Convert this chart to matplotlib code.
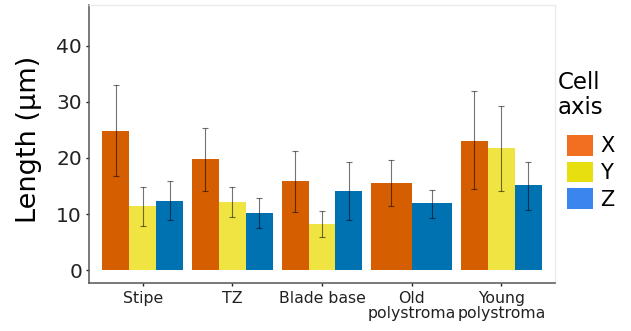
import numpy as np
import matplotlib.pyplot as plt
from matplotlib.patches import Patch

regions = ['Stipe', 'TZ', 'Blade base', 'Old\npolystroma', 'Young\npolystroma']
axes_names = ['X', 'Y', 'Z']

# mean lengths (um); Old polystroma has no Y measurement
mean_x = [24.9, 19.9, 15.9, 15.5, 23.1]
mean_y = [11.4, 12.1, 8.3, np.nan, 21.8]
mean_z = [12.4, 10.2, 14.1, 12.0, 15.1]

# error bar ends (lower, upper)
lo_x = [16.7, 14.2, 10.3, 11.5, 14.4]
hi_x = [33.1, 25.4, 21.3, 19.6, 32.0]
lo_y = [7.9, 9.4, 5.9, np.nan, 14.2]
hi_y = [14.8, 14.8, 10.5, np.nan, 29.2]
lo_z = [8.9, 7.6, 8.9, 9.3, 10.8]
hi_z = [15.9, 12.9, 19.3, 14.3, 19.2]

bar_colors = ['#D55E00', '#F0E442', '#0072B2']
key_colors = ['#F26F21', '#E8DF10', '#3A86EE']

means = np.array([mean_x, mean_y, mean_z])
lows = np.array([lo_x, lo_y, lo_z])
highs = np.array([hi_x, hi_y, hi_z])

fig = plt.figure(figsize=(6.31, 3.31), dpi=100)
ax = fig.add_axes([0.141, 0.145, 0.7386, 0.84])

group_w = 0.9
for i in range(len(regions)):
    present = [j for j in range(3) if not np.isnan(means[j, i])]
    w = group_w / len(present)
    for k, j in enumerate(present):
        x = i + 1 - group_w / 2 + w * (k + 0.5)
        m = means[j, i]
        ax.bar(x, m, width=w, color=bar_colors[j], edgecolor='none', zorder=2)
        ax.errorbar(x, m, yerr=[[m - lows[j, i]], [highs[j, i] - m]],
                    fmt='none', ecolor='black', alpha=0.55, elinewidth=0.8,
                    capsize=2.5, capthick=0.8, zorder=3)

ax.set_xlim(0.4, 5.6)
ax.set_ylim(-2.3, 47.3)
ax.set_xticks(range(1, len(regions) + 1))
ax.set_xticklabels(regions, fontsize=11.3, linespacing=1.0)
ax.set_yticks([0, 10, 20, 30, 40])
ax.tick_params(axis='y', labelsize=14.5, length=2, width=1, pad=3, colors='#222222')
ax.tick_params(axis='x', length=2, width=1, pad=4, colors='#222222')
ax.set_ylabel('Length (μm)', fontsize=19.5)
ax.yaxis.set_label_coords(-0.101, 0.516)

for s in ['left', 'bottom']:
    ax.spines[s].set_color('#555555')
    ax.spines[s].set_linewidth(1.1)
for s in ['top', 'right']:
    ax.spines[s].set_color('#EBEBEB')
    ax.spines[s].set_linewidth(1.0)

fig.text(558 / 631, 1 - 71 / 331, 'Cell\naxis', fontsize=16.5, ha='left', va='top',
         linespacing=1.1)
handles = [Patch(facecolor=c, edgecolor='none') for c in key_colors]
fig.legend(handles, axes_names, loc='upper left',
           bbox_to_anchor=(567 / 631, 1 - 135 / 331), frameon=False, fontsize=15,
           handlelength=1.25, handleheight=1.16, handletextpad=0.35,
           labelspacing=0.25, borderaxespad=0, borderpad=0)

fig.savefig('out.png', dpi=100)
